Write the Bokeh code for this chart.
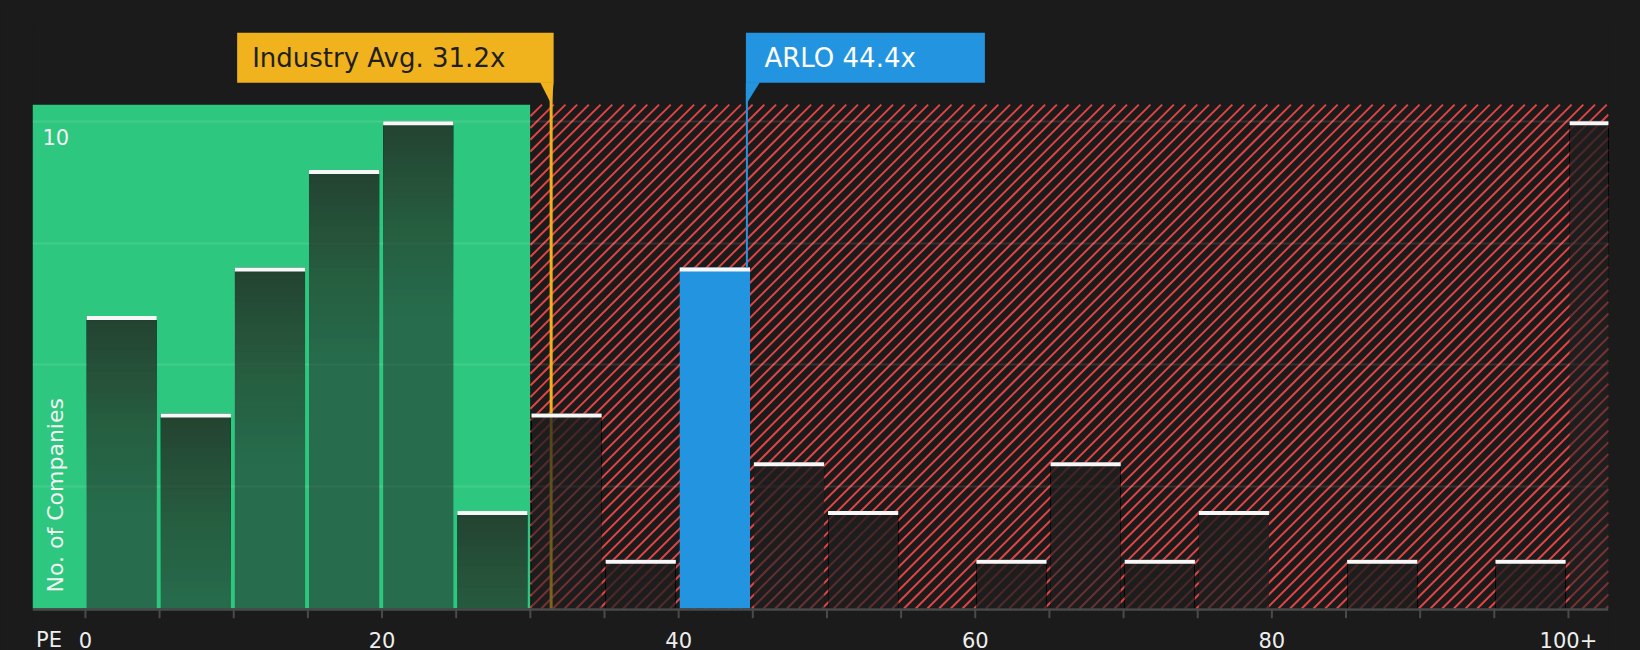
import math
from bokeh.plotting import figure
from bokeh.models import Range1d, ColumnDataSource
from bokeh.core.properties import value
from bokeh.embed import file_html
from bokeh.resources import INLINE

# ---------------- data ----------------
bin_starts = [0, 5, 10, 15, 20, 25, 30, 35, 40, 45, 50, 55, 60, 65, 70, 75, 80, 85, 90, 95, 100]
bin_counts = [6, 4, 7, 9, 10, 2, 4, 1, 7, 3, 2, 0, 1, 3, 1, 2, 0, 1, 0, 1, 10]
bin_width = 5
tick_positions = [0, 5, 10, 15, 20, 25, 30, 35, 40, 45, 50, 55, 60, 65, 70, 75, 80, 85, 90, 95, 100]
tick_values = [0, 20, 40, 60, 80, 100]
tick_labels = ["0", "20", "40", "60", "80", "100+"]
grid_values = [2.5, 5, 7.5, 10]
y_tick_value = 10
y_tick_label = "10"
industry_avg = 31.2
industry_text = "Industry Avg. 31.2x"
company_pe = 44.4
company_text = "ARLO 44.4x"
company_bin = 40
good_max = 30
x_title = "PE"
y_title = "No. of Companies"

# ---------------- layout / style ----------------
FONT = "DejaVu Sans"
BG = "#1b1b1b"
GREEN = "#2ec77f"
RED = "#e04444"
ORANGE = "#f0b21d"
BLUE = "#2394df"
OVERLAY = "#212224"
AXIS = "#4a4a4a"
W, H = 1640, 650
BL, BR, BT, BB = 32, 32, 24, 0
FW, FH = W - BL - BR, H - BT - BB
X0, X1 = -3.57, 102.7
SY = 48.73
Y0 = -42.0 / SY
Y1 = 584.0 / SY
SX = FW / (X1 - X0)
REGION_TOP = 10.34
TXT_SHIFT_26 = 8.4   # px correction of the text baseline for 26px text
TXT_SHIFT_21 = 7.3   # px correction of the text baseline for 21px text


def px(v):
    return v / SX


def py(v):
    return v / SY


p = figure(width=W, height=H, x_range=Range1d(X0, X1), y_range=Range1d(Y0, Y1),
           output_backend="svg", toolbar_location=None,
           background_fill_color=BG, border_fill_color=BG, outline_line_color=None,
           min_border=0, min_border_left=BL, min_border_right=BR, min_border_top=BT, min_border_bottom=BB)
p.grid.visible = False
p.xaxis.visible = False
p.yaxis.visible = False

# background bands
p.quad(left=[X0], right=[good_max], bottom=[0], top=[REGION_TOP], fill_color=GREEN, line_color=None)
p.quad(left=[good_max], right=[X1], bottom=[0], top=[REGION_TOP], fill_color=BG, line_color=None)

# diagonal red hatching of the expensive zone (45 degree lines in screen space)
HATCH_STEP = 11.7
hx0, hx1 = (good_max - X0) * SX, (X1 - X0) * SX
hh = REGION_TOP * SY
hxs0, hys0, hxs1, hys1 = [], [], [], []
c = hx0 - hh
while c < hx1:
    ya = max(0.0, hx0 - c)
    yb = min(hh, hx1 - c)
    if yb > ya:
        hxs0.append(X0 + px(c + ya)); hys0.append(py(ya))
        hxs1.append(X0 + px(c + yb)); hys1.append(py(yb))
    c += HATCH_STEP
p.segment(x0=hxs0, y0=hys0, x1=hxs1, y1=hys1, line_color=RED, line_width=2)

# grid lines (under translucent bars)
p.hspan(y=grid_values, line_color="white", line_alpha=0.1, line_width=2)

# callout geometry
NUDGE = px(3)
ind_x = industry_avg + NUDGE
co_x = company_pe + NUDGE
box_bottom = REGION_TOP + py(22)
box_top = box_bottom + py(50)
text_base = box_bottom + py(16 + TXT_SHIFT_26)

# industry average line
p.segment(x0=[ind_x], x1=[ind_x], y0=[0], y1=[box_bottom], line_color=ORANGE, line_width=3)

# translucent bars with vertical gradient (darker at the top)
A_TOP, A_BOT, GRAD_PX, K = 0.76, 0.54, 196.0, 28
mid = [A_TOP - (A_TOP - A_BOT) * (k + 0.5) / K for k in range(K)]
layer_alpha = []
for k in range(K):
    nxt = mid[k + 1] if k + 1 < K else A_BOT
    layer_alpha.append(1 - (1 - mid[k]) / (1 - nxt))

L, R, B, T, A = [], [], [], [], []
for s, cnt in zip(bin_starts, bin_counts):
    if cnt <= 0 or s == company_bin:
        continue
    l = s + px(1.1)
    r = s + bin_width - px(2.8)
    L.append(l); R.append(r); B.append(0); T.append(cnt); A.append(A_BOT)
    for k in range(K - 1, -1, -1):
        bot = max(0.0, cnt - py(GRAD_PX * (k + 1) / K))
        L.append(l); R.append(r); B.append(bot); T.append(cnt); A.append(layer_alpha[k])
p.quad(source=ColumnDataSource(dict(l=L, r=R, b=B, t=T, a=A)),
       left="l", right="r", bottom="b", top="t", fill_color=OVERLAY, fill_alpha="a", line_color=None)

# company bar
ci = bin_starts.index(company_bin)
p.quad(left=[company_bin + px(1.1)], right=[company_bin + bin_width - px(2.8)], bottom=[0],
       top=[bin_counts[ci]], fill_color=BLUE, line_color=None)

# white caps
cl = [s + px(1.1) for s, cnt in zip(bin_starts, bin_counts) if cnt > 0]
cr = [s + bin_width - px(2.8) for s, cnt in zip(bin_starts, bin_counts) if cnt > 0]
ct = [cnt for cnt in bin_counts if cnt > 0]
cb = [cnt - py(4) for cnt in ct]
p.quad(left=cl, right=cr, bottom=cb, top=ct, fill_color="#f7f7f7", line_color=None)

# company line
p.segment(x0=[co_x], x1=[co_x], y0=[bin_counts[ci]], y1=[box_bottom], line_color=BLUE, line_width=2)

# industry callout
p.quad(left=[ind_x - px(314)], right=[ind_x + px(2.5)], bottom=[box_bottom], top=[box_top],
       fill_color=ORANGE, line_color=None)
p.patch(x=[ind_x - px(11), ind_x + px(2.5), ind_x + px(0.5)],
        y=[box_bottom + py(0.5), box_bottom + py(0.5), REGION_TOP], fill_color=ORANGE, line_color=None)
p.text(x=[ind_x - px(299)], y=[text_base], text=[industry_text], text_font=value(FONT),
       text_font_size="26px", text_color="#1e1e1e", text_align="left", text_baseline="alphabetic")

# company callout
p.quad(left=[co_x - px(1)], right=[co_x + px(238)], bottom=[box_bottom], top=[box_top],
       fill_color=BLUE, line_color=None)
p.patch(x=[co_x - px(1), co_x + px(13), co_x - px(1)],
        y=[box_bottom + py(0.5), box_bottom + py(0.5), REGION_TOP], fill_color=BLUE, line_color=None)
p.text(x=[co_x + px(17.5)], y=[text_base], text=[company_text], text_font=value(FONT),
       text_font_size="26px", text_color="white", text_align="left", text_baseline="alphabetic")

# y tick label and title inside the plot
p.text(x=[X0 + px(10)], y=[y_tick_value - py(23.3 - TXT_SHIFT_21)], text=[y_tick_label], text_font=value(FONT),
       text_font_size="21px", text_color="#f2f2f2", text_align="left", text_baseline="alphabetic")
p.text(x=[X0 + px(30.3 - TXT_SHIFT_21)], y=[py(16)], text=[y_title], angle=[math.pi / 2], text_font=value(FONT),
       text_font_size="22px", text_color="#f2f2f2", text_align="left", text_baseline="alphabetic")

# x axis line, ticks and labels
p.hspan(y=[-py(0.9)], line_color=AXIS, line_width=2.5)
p.segment(x0=tick_positions, x1=tick_positions, y0=[-py(1.5)] * len(tick_positions),
          y1=[-py(9.7)] * len(tick_positions), line_color=AXIS, line_width=2)
lab_y = -py(38.5 - TXT_SHIFT_21)
p.text(x=tick_values, y=[lab_y] * len(tick_values), text=tick_labels, text_font=value(FONT),
       text_font_size="21px", text_color="#eeeeee", text_align="center", text_baseline="alphabetic")
p.text(x=[-px(36.5)], y=[lab_y], text=[x_title], text_font=value(FONT),
       text_font_size="21px", text_color="#eeeeee", text_align="center", text_baseline="alphabetic")

html = file_html(p, INLINE)
html = html.replace("</head>", "<style>html, body { background-color: #1b1b1b; }</style>\n</head>", 1)
open("out.html", "w").write(html)
